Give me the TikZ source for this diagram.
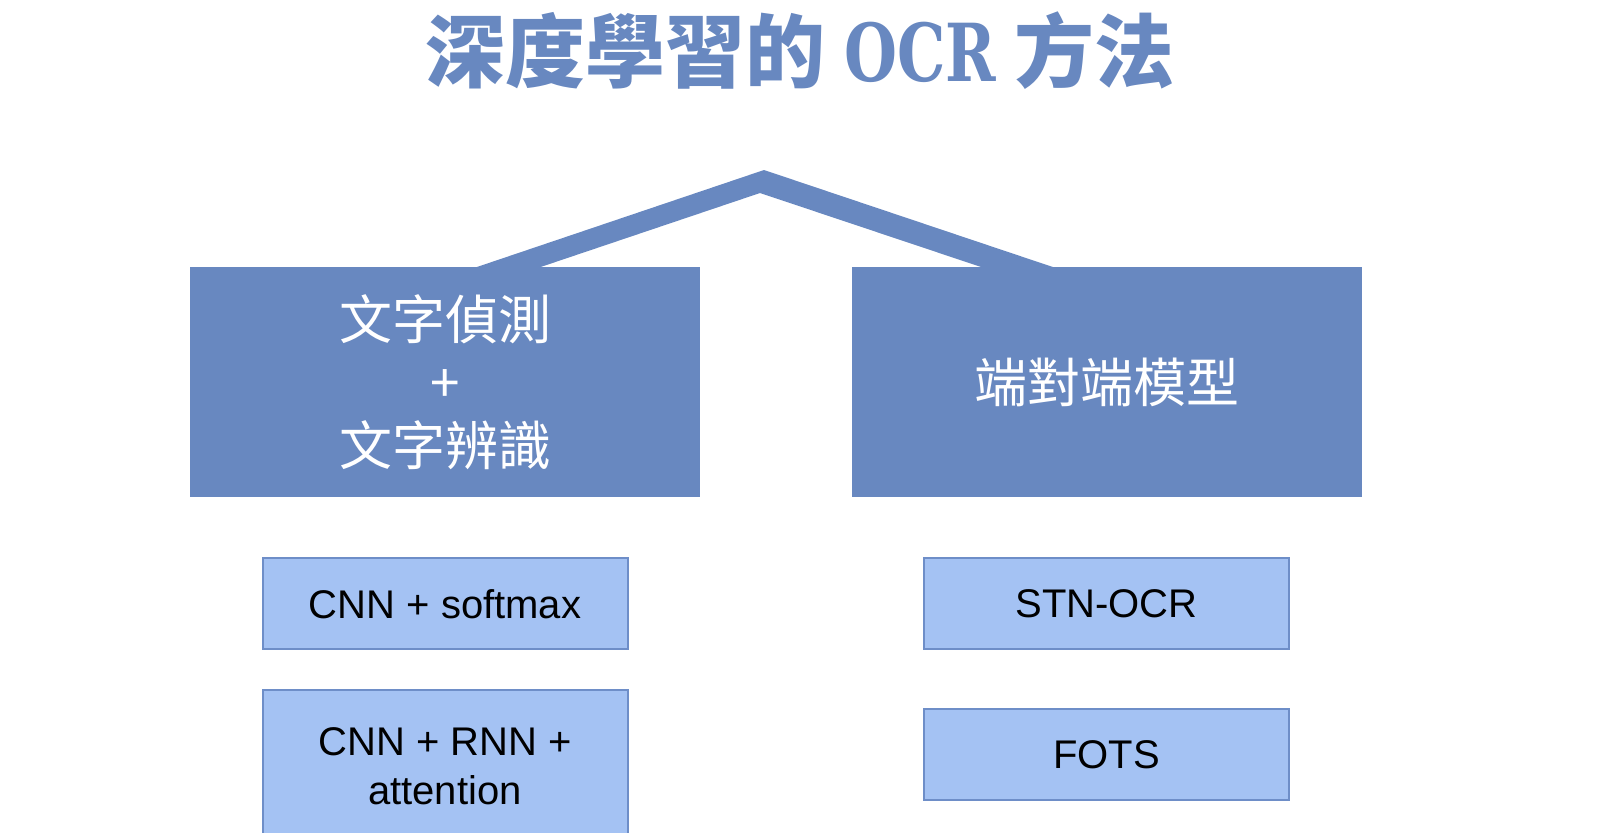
\documentclass[tikz,border=0pt]{standalone}
\usepackage{xcolor}
\usepackage{graphicx}
\usepackage{fontspec}
\setmainfont{Liberation Sans}
\newfontfamily\cjk{Noto Sans CJK TC}
\newfontfamily\slab{DejaVu Serif}
\usepackage{tikz}
\usetikzlibrary{positioning, backgrounds}

\definecolor{ocrblue}{RGB}{104,136,192}
\definecolor{methodfill}{RGB}{164,194,243}
\definecolor{methodline}{RGB}{110,142,200}

\begin{document}
\begin{tikzpicture}[x=0.5pt, y=-0.5pt,
    groupbox/.style={fill=ocrblue, rectangle, minimum width=255pt, minimum height=115pt,
      text=white, align=center, font=\cjk\fontsize{26.5pt}{31.5pt}\selectfont},
    methodbox/.style={draw=methodline, line width=1pt, fill=methodfill, rectangle,
      minimum width=182.5pt, minimum height=45.5pt, align=center,
      font=\fontsize{20pt}{24.5pt}\selectfont}]
    \clip (0,0) rectangle (1600,832);
    \node[text=ocrblue, font=\cjk\bfseries\fontsize{40pt}{48pt}\selectfont] (title) at (800,51) {深度學習的 \scalebox{0.76}[1]{\slab OCR} 方法};
    \node[groupbox] (det) at (445,382) {文字偵測\\+\\文字辨識};
    \node[groupbox] (e2e) at (1106.5,382) {端對端模型};
    \coordinate (peakout) at (764,170);
    \coordinate (peakin) at (760,193);
    \node[methodbox, below=30pt of det] (cnnsoft) {CNN + softmax};
    \node[methodbox, below=19.5pt of cnnsoft, minimum height=76pt] (cnnrnn) {CNN + RNN +\\attention};
    \node[methodbox, below=30pt of e2e] (stn) {STN-OCR};
    \node[methodbox, below=29pt of stn] (fots) {FOTS};
    % bent connector between the two groups
    \begin{pgfonlayer}{background}
      \fill[ocrblue] ([xshift=4.7pt, yshift=-4pt]det.north) -- (peakout) -- ([xshift=-15.55pt, yshift=-4pt]e2e.north)
        -- ([xshift=-51.35pt, yshift=-4pt]e2e.north) -- (peakin) -- ([xshift=36.55pt, yshift=-4pt]det.north) -- cycle;
    \end{pgfonlayer}
  \end{tikzpicture}
\end{document}
